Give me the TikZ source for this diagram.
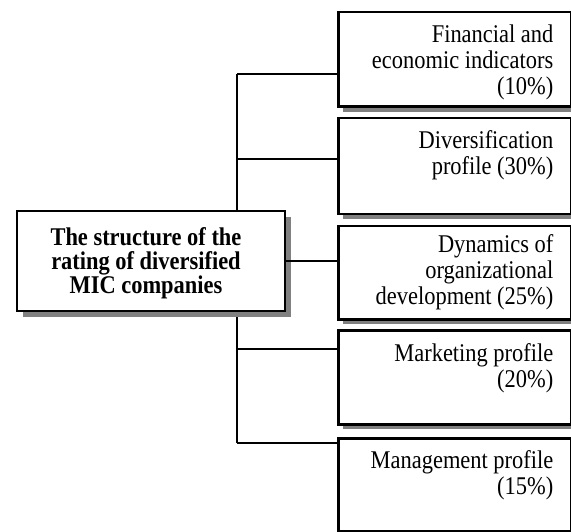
\documentclass[tikz,border=0pt]{standalone}
\usepackage{fontspec}
\setmainfont{Liberation Serif}[FakeStretch=0.88]
\usetikzlibrary{shadows,calc}
\definecolor{shade}{RGB}{128,128,128}

\begin{document}
\begin{tikzpicture}[x=1pt,y=-1pt,
    factor/.style={draw,fill=white,line width=2.5pt,minimum width=233pt,
      anchor=north west,inner sep=0pt,
      drop shadow={shadow xshift=5pt,shadow yshift=-5pt,fill=shade,opacity=1}},
    factortext/.style={anchor=base east,align=right,inner sep=0pt,
      font=\fontsize{25.5}{26}\selectfont},
    link/.style={line width=2.5pt}]
  \useasboundingbox (0,0) rectangle (571,532);

  % trunk and its branches
  \coordinate (t1) at (237,74);
  \coordinate (t2) at (237,159);
  \coordinate (t4) at (237,349);
  \coordinate (t5) at (237,443);
  \draw[link] (t1) -- (t5);

  % the five rating blocks
  \node[factor,minimum height=94.5pt] (fin) at (337,11) {};
  \node[factor,minimum height=96pt] (div) at (337,117) {};
  \node[factor,minimum height=93pt] (dyn) at (337,225) {};
  \node[factor,minimum height=94pt] (mkt) at (337,329) {};
  \node[factor,minimum height=93pt] (mgt) at (337,437) {};

  % texts hang from the baseline of their last line
  \node[factortext] (fintext) at ($(fin.north east)+(-19,84)$)
    {Financial and\\economic indicators\\(10\%)};
  \node[factortext] (divtext) at ($(div.north east)+(-19,58)$)
    {Diversification\\profile (30\%)};
  \node[factortext] (dyntext) at ($(dyn.north east)+(-19,80)$)
    {Dynamics of\\organizational\\development (25\%)};
  \node[factortext] (mkttext) at ($(mkt.north east)+(-19,58)$)
    {Marketing profile\\(20\%)};
  \node[factortext] (mgttext) at ($(mgt.north east)+(-19,57)$)
    {Management profile\\(15\%)};

  % central block
  \node[draw,fill=white,line width=2.7pt,minimum width=268pt,minimum height=100pt,
        inner sep=0pt,
        drop shadow={shadow xshift=6pt,shadow yshift=-6pt,fill=shade,opacity=1}]
    (rating) at (151,261) {};
  \node[anchor=base,align=center,inner sep=0pt,
        font=\bfseries\fontsize{25.5}{24}\selectfont]
    (ratingtext) at (146,294) {The structure of the\\rating of diversified\\MIC companies};

  \draw[link] (t1) -- (t1 -| fin.west);
  \draw[link] (t2) -- (t2 -| div.west);
  \draw[link] (rating.east) -- (rating.east -| dyn.west);
  \draw[link] (t4) -- (t4 -| mkt.west);
  \draw[link] (t5) -- (t5 -| mgt.west);
\end{tikzpicture}
\end{document}
